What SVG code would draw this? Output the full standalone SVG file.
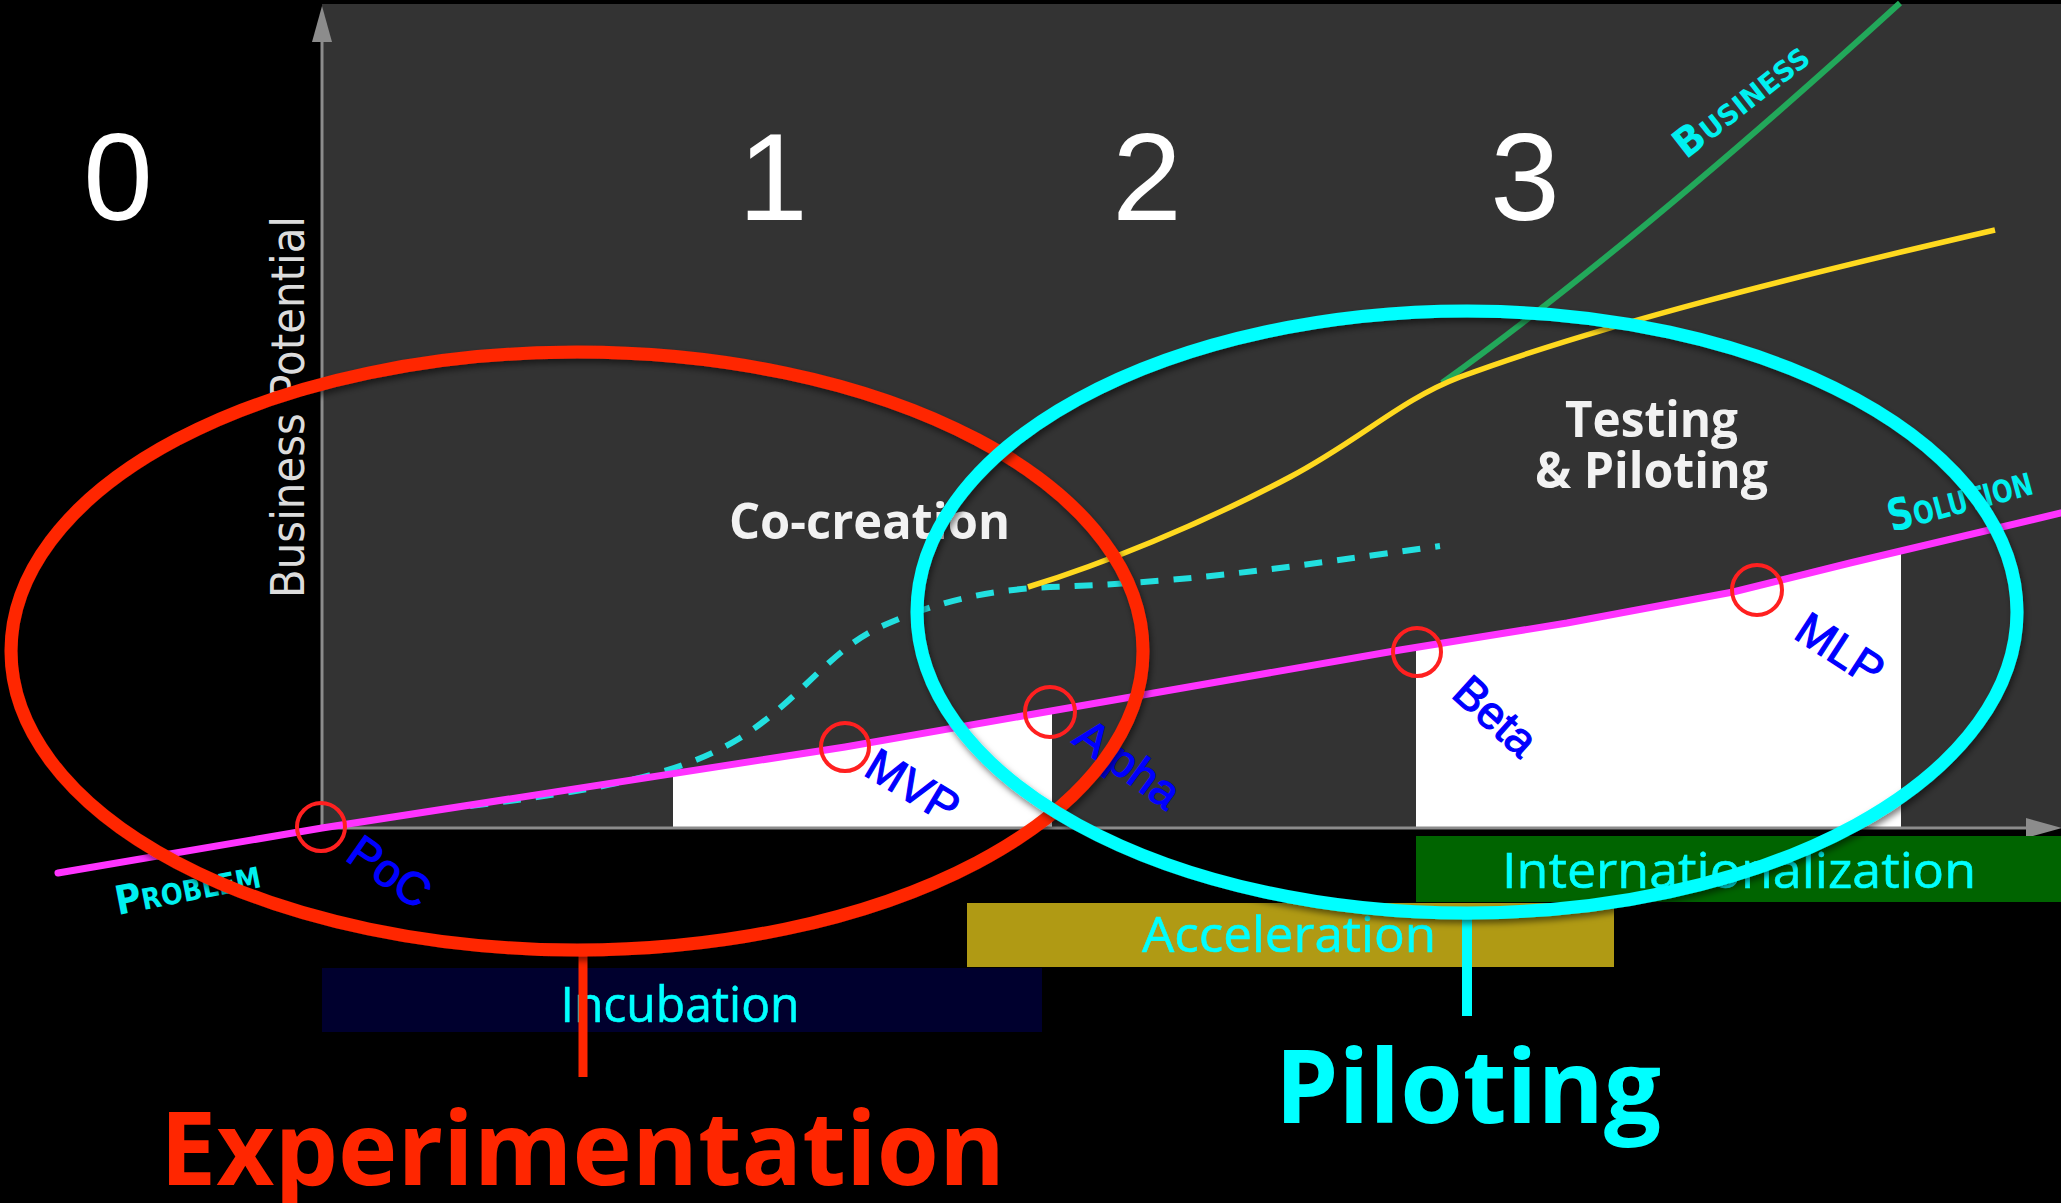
<svg xmlns="http://www.w3.org/2000/svg" width="2061" height="1203" viewBox="0 0 2061 1203">
  <defs>
    <style>
      .num { font-family: "Liberation Sans", Arial, sans-serif; font-size: 125px; fill: #ffffff; text-anchor: middle; }
      .ms { font-family: "Liberation Sans", Arial, sans-serif; font-size: 46px; fill: #0000ff; stroke: #0000ff; stroke-width: 1.2; }
      .cap { font-family: "DejaVu Sans", sans-serif; fill: #00f0f0; font-weight: bold; }
      .phase { font-family: "Open Sans", "Noto Sans", sans-serif; font-weight: bold; fill: #f2f2f2; font-size: 50px; }
      .bar { font-family: "Open Sans", "Noto Sans", sans-serif; fill: #00ffff; font-size: 50px; text-anchor: middle; stroke: #00ffff; stroke-width: 0.6; }
      .big { font-family: "Open Sans", "Noto Sans", sans-serif; font-weight: bold; font-size: 102px; }
      .ring { fill: none; stroke: #ff2020; stroke-width: 4; }
      .axis { stroke: #8c8c8c; stroke-width: 3; fill: none; }
    </style>
    <marker id="ax" markerWidth="36" markerHeight="24" refX="0" refY="12" orient="auto" markerUnits="userSpaceOnUse">
      <path d="M0,2 L36,12 L0,22 Z" fill="#8c8c8c"/>
    </marker>
    <filter id="sh" x="-5%" y="-5%" width="110%" height="115%">
      <feDropShadow dx="2" dy="4" stdDeviation="3" flood-color="#000" flood-opacity="0.5"/>
    </filter>
  </defs>

  <rect x="0" y="0" width="2061" height="1203" fill="#000"/>
  <rect id="panel" x="322" y="4" width="1739" height="824" fill="#333333"/>

  <g id="white-areas" fill="#ffffff">
    <polygon points="673,774 845,747 1052,711 1052,828 673,828"/>
    <polygon points="1416,649 1567,623 1733,592 1901,551 1901,828 1416,828"/>
  </g>

  <g id="axes">
    <line class="axis" x1="322" y1="828" x2="322" y2="42" marker-end="url(#ax)"/>
    <line class="axis" x1="322" y1="828" x2="2026" y2="828" marker-end="url(#ax)"/>
    <text transform="translate(304,407) rotate(-90)" text-anchor="middle" font-family="DejaVu Sans, sans-serif" font-size="46" fill="#dcdcdc" textLength="382" lengthAdjust="spacingAndGlyphs">Business Potential</text>
  </g>

  <g id="stage-numbers">
    <text class="num" x="118" y="220">0</text>
    <text class="num" x="773" y="220">1</text>
    <text class="num" x="1147" y="220">2</text>
    <text class="num" x="1525" y="220">3</text>
  </g>

  <g id="curves">
    <path id="dashed-curve" d="M470,806 C600,790 680,775 740,738 C800,700 830,650 880,627 C940,600 990,590 1050,587 C1200,582 1300,565 1440,546" fill="none" stroke="#22e0e0" stroke-width="6" stroke-dasharray="18,15"/>
    <path id="business-curve" d="M1442,383 C1550,305 1700,185 1900,3" fill="none" stroke="#22a85a" stroke-width="6"/>
    <path id="yellow-curve" d="M1028,587 C1100,565 1200,525 1290,477 C1360,440 1400,400 1460,377 C1600,325 1800,275 1995,230" fill="none" stroke="#ffd91f" stroke-width="5.5"/>
    <path id="solution-line" d="M58,873 L322,828 L845,747 L1051,711 L1400,650 L1567,623 L1733,592 L1850,563 L2061,513" fill="none" stroke="#ff33ff" stroke-width="7" stroke-linejoin="round" stroke-linecap="round"/>
  </g>

  <g id="curve-labels">
    <text class="cap" transform="translate(118,915) rotate(-11)" textLength="147" lengthAdjust="spacingAndGlyphs"><tspan font-size="40">P</tspan><tspan font-size="29">ROBLEM</tspan></text>
    <text class="cap" transform="translate(1892,532) rotate(-15)" textLength="148" lengthAdjust="spacingAndGlyphs"><tspan font-size="44">S</tspan><tspan font-size="31">OLUTION</tspan></text>
    <text class="cap" transform="translate(1686,160) rotate(-38)" textLength="160" lengthAdjust="spacingAndGlyphs"><tspan font-size="40">B</tspan><tspan font-size="28">USINESS</tspan></text>
  </g>

  <g id="milestone-poc">
    <circle class="ring" cx="321" cy="827" r="24"/>
    <text class="ms" transform="translate(344,859) rotate(35)">PoC</text>
  </g>
  <g id="milestone-mvp">
    <circle class="ring" cx="845" cy="747" r="24"/>
    <text class="ms" transform="translate(862,774) rotate(31)">MVP</text>
  </g>
  <g id="milestone-alpha">
    <circle class="ring" cx="1050" cy="712" r="25"/>
    <text class="ms" transform="translate(1071,742) rotate(36)" font-size="48">Alpha</text>
  </g>
  <g id="milestone-beta">
    <circle class="ring" cx="1417" cy="652" r="24"/>
    <text class="ms" transform="translate(1450,696) rotate(42)">Beta</text>
  </g>
  <g id="milestone-mlp">
    <circle class="ring" cx="1757" cy="590" r="25"/>
    <text class="ms" transform="translate(1792,637) rotate(33)">MLP</text>
  </g>

  <g id="phase-labels">
    <text class="phase" x="729" y="539" textLength="281" lengthAdjust="spacingAndGlyphs">Co-creation</text>
    <text class="phase" x="1565" y="437" textLength="173" lengthAdjust="spacingAndGlyphs">Testing</text>
    <text class="phase" x="1535" y="488" textLength="233" lengthAdjust="spacingAndGlyphs">&amp; Piloting</text>
  </g>

  <g id="bar-incubation">
    <rect x="322" y="968" width="720" height="64" fill="#00002e"/>
    <text class="bar" x="680" y="1022" textLength="239" lengthAdjust="spacingAndGlyphs">Incubation</text>
  </g>
  <g id="bar-acceleration">
    <rect x="967" y="903" width="647" height="64" fill="#b09a14"/>
    <text class="bar" x="1289" y="952" textLength="294" lengthAdjust="spacingAndGlyphs">Acceleration</text>
  </g>
  <g id="bar-internationalization">
    <rect x="1416" y="836" width="645" height="66" fill="#006400"/>
    <text class="bar" x="1739" y="888" textLength="474" lengthAdjust="spacingAndGlyphs">Internationalization</text>
  </g>

  <g id="connectors">
    <line id="exp-link" x1="583" y1="948" x2="583" y2="1077" stroke="#ff2600" stroke-width="9"/>
    <line id="pil-link" x1="1467" y1="912" x2="1467" y2="1016" stroke="#00ffff" stroke-width="10"/>
  </g>

  <g id="experimentation">
    <ellipse cx="577" cy="651" rx="566" ry="299" fill="none" stroke="#ff2600" stroke-width="13" filter="url(#sh)"/>
    <text class="big" x="160" y="1185" fill="#ff2600" textLength="845" lengthAdjust="spacingAndGlyphs">Experimentation</text>
  </g>
  <g id="piloting">
    <ellipse cx="1467" cy="612" rx="550" ry="301" fill="none" stroke="#00ffff" stroke-width="13" filter="url(#sh)"/>
    <text class="big" x="1275" y="1123" fill="#00ffff" textLength="386" lengthAdjust="spacingAndGlyphs">Piloting</text>
  </g>
</svg>
